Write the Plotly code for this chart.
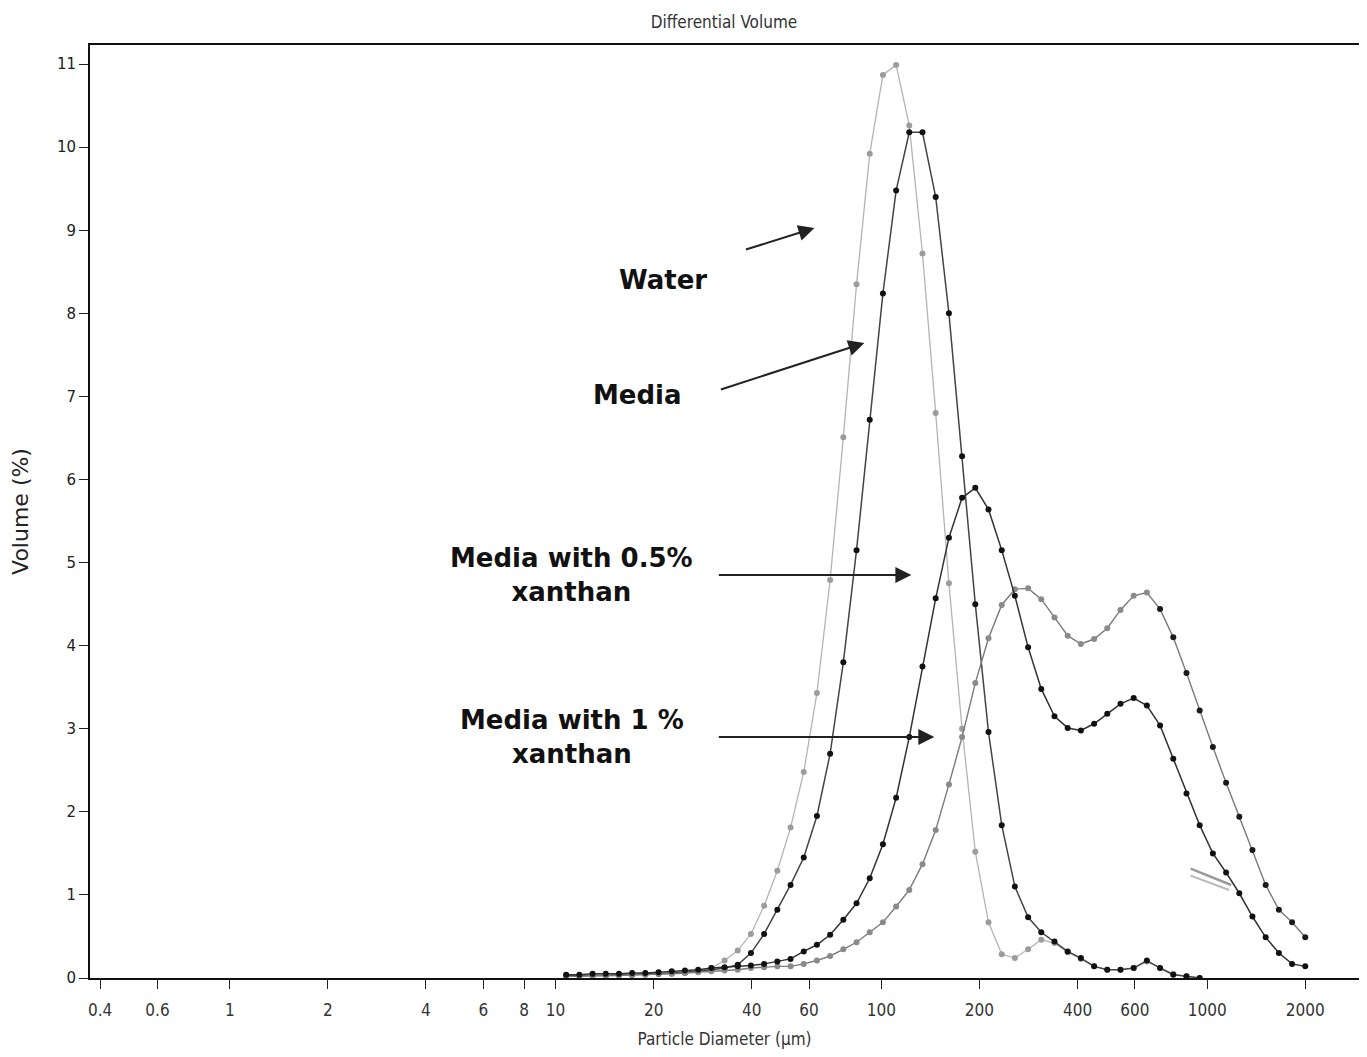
import plotly.graph_objects as go

# Particle diameter channels (µm)
diameter = [10.78, 11.83, 12.99, 14.26, 15.65, 17.18, 18.86, 20.71, 22.73, 24.95,
            27.39, 30.07, 33.01, 36.24, 39.78, 43.67, 47.94, 52.63, 57.77, 63.42,
            69.62, 76.43, 83.90, 92.10, 101.1, 111.0, 121.8, 133.7, 146.8, 161.2,
            176.9, 194.2, 213.2, 234.1, 256.9, 282.1, 309.6, 339.9, 373.1, 409.6,
            449.7, 493.6, 541.9, 594.9, 653.0, 716.8, 786.9, 863.9, 948.3, 1041,
            1143, 1255, 1377, 1512, 1660, 1822, 2000]

water = [0.02, 0.02, 0.03, 0.03, 0.03, 0.04, 0.04, 0.05, 0.05, 0.06,
         0.08, 0.12, 0.21, 0.33, 0.53, 0.87, 1.29, 1.81, 2.48, 3.43,
         4.79, 6.51, 8.35, 9.92, 10.87, 10.99, 10.26, 8.72, 6.80, 4.75,
         3.00, 1.52, 0.67, 0.285, 0.24, 0.345, 0.46, 0.42, 0.31, 0.23,
         0.14, 0.10, 0.10, 0.12, 0.20, 0.12, 0.05, 0.02, 0.0]

media = [0.03, 0.03, 0.03, 0.03, 0.04, 0.04, 0.05, 0.05, 0.06, 0.07,
         0.08, 0.10, 0.12, 0.16, 0.30, 0.53, 0.82, 1.12, 1.45, 1.95,
         2.70, 3.80, 5.15, 6.72, 8.24, 9.48, 10.18, 10.18, 9.40, 8.00,
         6.28, 4.50, 2.96, 1.84, 1.10, 0.73, 0.55, 0.44, 0.32, 0.24,
         0.14, 0.10, 0.10, 0.12, 0.21, 0.12, 0.04, 0.02, 0.0]

xanthan_05 = [0.04, 0.04, 0.05, 0.05, 0.05, 0.06, 0.06, 0.07, 0.08, 0.09,
              0.10, 0.12, 0.13, 0.14, 0.15, 0.17, 0.20, 0.23, 0.32, 0.40,
              0.52, 0.70, 0.90, 1.20, 1.61, 2.17, 2.90, 3.75, 4.57, 5.30,
              5.78, 5.90, 5.64, 5.15, 4.60, 3.98, 3.48, 3.15, 3.01, 2.98,
              3.06, 3.18, 3.30, 3.37, 3.28, 3.04, 2.64, 2.22, 1.84, 1.50,
              1.27, 1.02, 0.74, 0.49, 0.30, 0.17, 0.14]

xanthan_1 = [0.02, 0.02, 0.03, 0.03, 0.03, 0.04, 0.04, 0.05, 0.05, 0.06,
             0.07, 0.08, 0.09, 0.10, 0.12, 0.13, 0.14, 0.14, 0.17, 0.21,
             0.265, 0.345, 0.43, 0.55, 0.67, 0.86, 1.06, 1.37, 1.78, 2.33,
             2.90, 3.55, 4.09, 4.49, 4.68, 4.69, 4.56, 4.34, 4.12, 4.02,
             4.08, 4.21, 4.43, 4.60, 4.64, 4.44, 4.10, 3.67, 3.22, 2.78,
             2.35, 1.94, 1.54, 1.12, 0.82, 0.67, 0.49]

x_tickvals = [0.4, 0.6, 1, 2, 4, 6, 8, 10, 20, 40, 60, 100, 200, 400, 600, 1000, 2000]
x_ticktext = ["0.4", "0.6", "1", "2", "4", "6", "8", "10", "20", "40", "60",
              "100", "200", "400", "600", "1000", "2000"]
y_tickvals = list(range(0, 12))

fig = go.Figure()

fig.add_trace(go.Scatter(
    x=diameter[:len(water)], y=water, mode="lines+markers", name="Water",
    line=dict(color="#b4b4b4", width=1.3),
    marker=dict(color="#9c9c9c", size=6)))
fig.add_trace(go.Scatter(
    x=diameter[:len(media)], y=media, mode="lines+markers", name="Media",
    line=dict(color="#444444", width=1.5),
    marker=dict(color="#111111", size=6)))
fig.add_trace(go.Scatter(
    x=diameter, y=xanthan_1, mode="lines+markers", name="Media with 1 % xanthan",
    line=dict(color="#7a7a7a", width=1.4),
    marker=dict(color=["#8a8a8a"] * 45 + ["#1a1a1a"] * (len(diameter) - 45), size=6)))
fig.add_trace(go.Scatter(
    x=diameter, y=xanthan_05, mode="lines+markers", name="Media with 0.5% xanthan",
    line=dict(color="#333333", width=1.5),
    marker=dict(color="#111111", size=6)))

label_font = dict(family="DejaVu Sans", size=26, color="#111111")

def lx(px):
    # annotation placement: page pixel -> log10 diameter
    return 2 + (px - 882) / 326.0

def ly(py):
    return (978 - py) / 83.08

annotations = [
    dict(x=lx(663), y=ly(280), text="<b>Water</b>", showarrow=False, font=label_font),
    dict(x=lx(638), y=ly(395), text="<b>Media</b>", showarrow=False, font=label_font),
    dict(x=lx(572), y=ly(575), text="<b>Media with 0.5%<br>xanthan</b>", showarrow=False,
         font=label_font, align="center"),
    dict(x=lx(572), y=ly(737), text="<b>Media with 1 %<br>xanthan</b>", showarrow=False,
         font=label_font, align="center"),
]
arrows = [
    (815, 228, -70, 22),
    (865, 343, -145, 47),
    (912, 575, -194, 0),
    (935, 737, -217, 0),
]
for hx, hy, axp, ayp in arrows:
    annotations.append(dict(x=lx(hx), y=ly(hy), ax=axp, ay=ayp, axref="pixel", ayref="pixel",
                            text="", showarrow=True, arrowhead=2, arrowsize=1.6,
                            arrowwidth=2, arrowcolor="#222222"))
annotations.append(dict(x=lx(1232), y=ly(885), ax=-42, ay=-17, axref="pixel", ayref="pixel",
                        text="", showarrow=True, arrowhead=0, arrowwidth=2.5,
                        arrowcolor="#9a9a9a"))
annotations.append(dict(x=lx(1230), y=ly(890), ax=-40, ay=-15, axref="pixel", ayref="pixel",
                        text="", showarrow=True, arrowhead=0, arrowwidth=2,
                        arrowcolor="#b8b8b8"))

# page body has an 8px default margin, so the figure is offset by 8px
fig.update_layout(
    width=1351, height=1041,
    margin=dict(l=82, r=0, t=37, b=71, autoexpand=False),
    paper_bgcolor="white", plot_bgcolor="white",
    showlegend=False,
    title=dict(text="Differential Volume", x=(724 - 8) / 1351, xanchor="center",
               y=1 - 14 / 1041, yanchor="middle",
               font=dict(family="DejaVu Sans Condensed", size=17, color="#333333")),
    annotations=annotations,
)

fig.update_xaxes(
    type="log", range=[-0.429, 3.466],
    tickvals=x_tickvals, ticktext=x_ticktext,
    ticks="outside", ticklen=9, tickwidth=1.2, tickcolor="#222222",
    ticklabelstandoff=7,
    showline=True, linecolor="#111111", linewidth=2, mirror=True,
    showgrid=False, zeroline=False, automargin=False,
    tickfont=dict(family="DejaVu Sans Condensed", size=17, color="#333333"),
    title=dict(text="Particle Diameter (µm)", standoff=18,
               font=dict(family="DejaVu Sans Condensed", size=17, color="#333333")),
)
fig.update_yaxes(
    range=[0, 11.23], tickvals=y_tickvals,
    ticks="outside", ticklen=9, tickwidth=1.2, tickcolor="#222222",
    showline=True, linecolor="#111111", linewidth=2, mirror=True,
    showgrid=False, zeroline=False, automargin=False,
    tickfont=dict(family="DejaVu Sans", size=15, color="#222222"),
    title=dict(text="Volume (%)", standoff=24,
               font=dict(family="DejaVu Sans", size=22, color="#222222")),
)

fig.write_html("out.html")
